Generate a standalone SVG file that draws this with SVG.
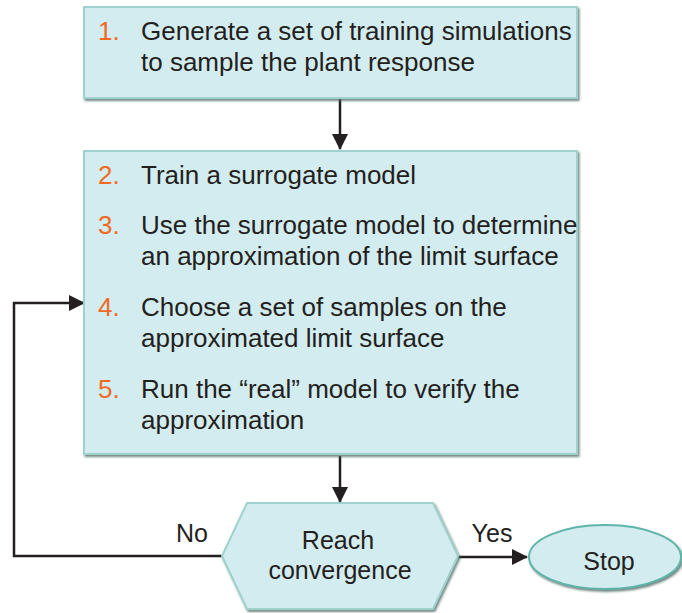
<svg xmlns="http://www.w3.org/2000/svg" width="682" height="613" viewBox="0 0 682 613">
<defs>
<style>
.box{fill:#d3ecef;stroke:#9fd2cc;stroke-width:2}
.t{font-family:"Liberation Sans",Arial,sans-serif;font-size:26px;fill:#231f20}
.n{font-family:"Liberation Sans",Arial,sans-serif;font-size:26px;fill:#f26a22}
.c{font-family:"Liberation Sans",Arial,sans-serif;font-size:25px;fill:#231f20;text-anchor:middle}
.ln{fill:none;stroke:#231f20;stroke-width:2.5}
</style>
<filter id="sh" x="-5%" y="-5%" width="115%" height="115%">
<feDropShadow dx="1.5" dy="2" stdDeviation="1" flood-color="#4f6b66" flood-opacity="0.8"/>
</filter>
<marker id="ah" markerWidth="10" markerHeight="10" refX="9" refY="5" orient="auto" markerUnits="userSpaceOnUse" viewBox="0 0 10 10">
<path d="M0,0 L10,5 L0,10 Z" fill="#231f20"/>
</marker>
<marker id="ah2" markerWidth="16" markerHeight="16" refX="15" refY="8" orient="auto" markerUnits="userSpaceOnUse" viewBox="0 0 16 16">
<path d="M0,0 L16,8 L0,16 Z" fill="#231f20"/>
</marker>
</defs>
<g id="connectors">
<line class="ln" x1="340" y1="99" x2="340" y2="149" marker-end="url(#ah2)"/>
<line class="ln" x1="340" y1="456" x2="340" y2="502" marker-end="url(#ah2)"/>
<line class="ln" x1="458" y1="557" x2="527" y2="557" marker-end="url(#ah2)"/>
<polyline class="ln" points="222,556 14,556 14,303 84,303" marker-end="url(#ah2)"/>
</g>
<g id="node1">
<rect class="box" x="84" y="7" width="493" height="91" filter="url(#sh)"/>
<text class="n" x="98" y="40">1.</text>
<text class="t" x="141" y="40">Generate a set of training simulations</text>
<text class="t" x="141" y="71">to sample the plant response</text>
</g>
<g id="node2">
<rect class="box" x="84" y="151" width="493" height="303" filter="url(#sh)"/>
<text class="n" x="98" y="184">2.</text>
<text class="t" x="141" y="184">Train a surrogate model</text>
<text class="n" x="98" y="234">3.</text>
<text class="t" x="141" y="234">Use the surrogate model to determine</text>
<text class="t" x="141" y="265">an approximation of the limit surface</text>
<text class="n" x="98" y="316">4.</text>
<text class="t" x="141" y="316">Choose a set of samples on the</text>
<text class="t" x="141" y="347">approximated limit surface</text>
<text class="n" x="98" y="398">5.</text>
<text class="t" x="141" y="398">Run the “real” model to verify the</text>
<text class="t" x="141" y="429">approximation</text>
</g>
<g id="decision">
<polygon class="box" points="222,556 247,503 433,503 458,556 433,609 247,609" filter="url(#sh)"/>
<text class="c" x="338" y="549">Reach</text>
<text class="c" x="340" y="579">convergence</text>
</g>
<g id="labels">
<text class="c" x="192" y="542">No</text>
<text class="c" x="492" y="542">Yes</text>
</g>
<g id="stop">
<ellipse cx="605" cy="557" rx="76" ry="32" fill="#d3ecef" stroke="#5fb5aa" stroke-width="2" filter="url(#sh)"/>
<text class="c" x="609" y="570">Stop</text>
</g>
</svg>
